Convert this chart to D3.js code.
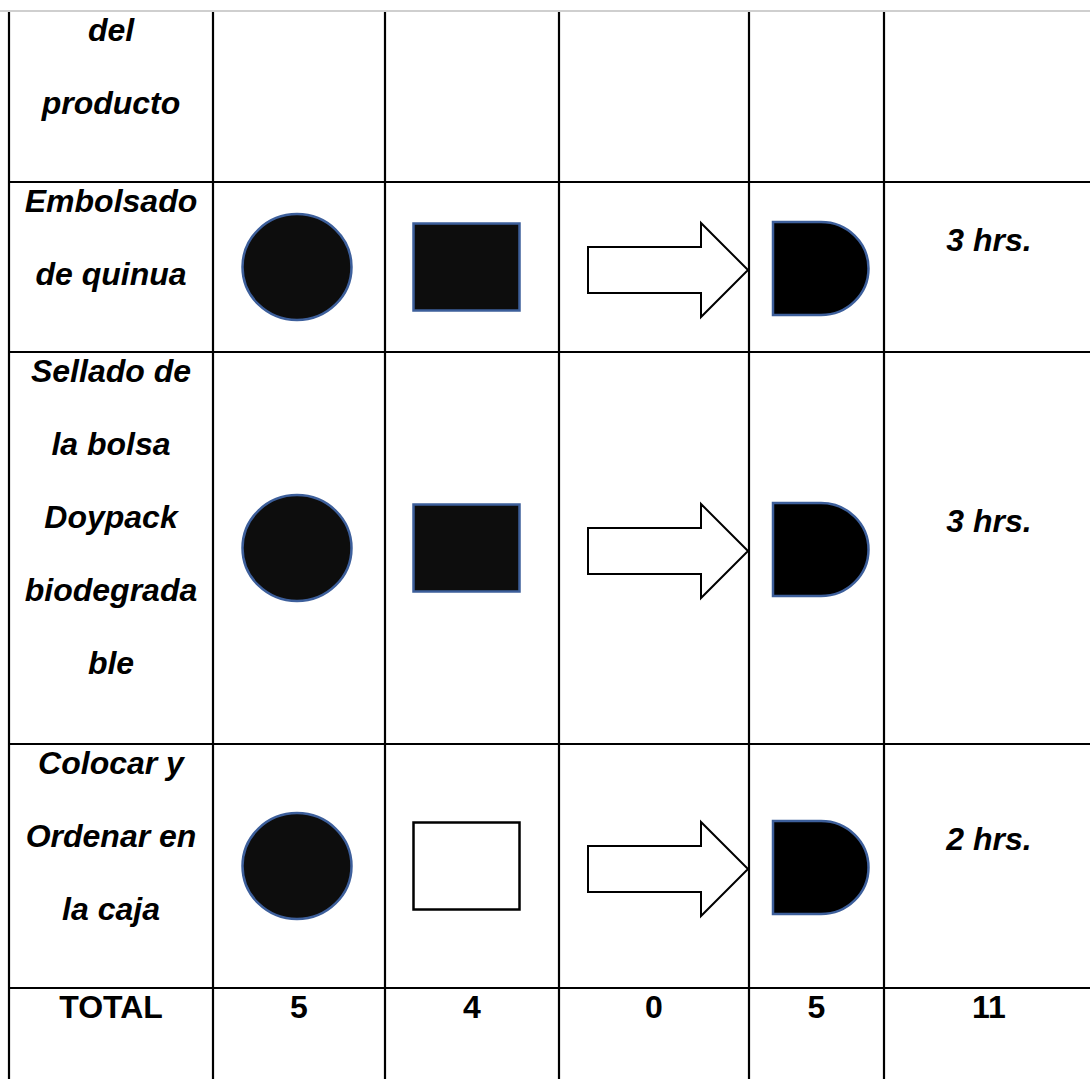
<!DOCTYPE html>
<html lang="es">
<head>
    <meta charset="UTF-8">
    <title>Cursograma - tabla</title>
    <script src="https://d3js.org/d3.v7.min.js"></script>
    <style>
        body { margin: 0; background: #fff; }
        .cell_text {
            font-family: "Liberation Sans", Arial, sans-serif;
            font-size: 32px;
            font-weight: bold;
            fill: #000;
        }
    </style>
</head>
<body>
<svg width="1090" height="1079"></svg>

<script>
    // row labels (one list of lines per row)
    const rowLabels = [
        ["del", "producto"],
        ["Embolsado", "de quinua"],
        ["Sellado de", "la bolsa", "Doypack", "biodegrada", "ble"],
        ["Colocar y", "Ordenar en", "la caja"]
    ];
    // symbols per row: "filled", "empty" or null
    const operacion   = [null, "filled", "filled", "filled"];
    const inspeccion  = [null, "filled", "filled", "empty"];
    const transporte  = [null, "empty", "empty", "empty"];
    const demora      = [null, "filled", "filled", "filled"];
    const tiempos     = ["", "3 hrs.", "3 hrs.", "2 hrs."];
    const totalLabel  = "TOTAL";
    const totales     = ["5", "4", "0", "5", "11"];

    // table layout
    const colEdges = [9, 213, 385, 559, 749, 884, 1094];
    const rowEdges = [11, 182, 352, 744, 988, 1090];
    const lineGap = 73, firstBase = 30;

    const svg = d3.select("svg");
    const colX = d3.scaleOrdinal().domain(d3.range(6)).range(d3.range(6).map(i => (colEdges[i] + colEdges[i + 1]) / 2));
    const rowY = d3.scaleOrdinal().domain(d3.range(5)).range(d3.range(5).map(i => rowEdges[i]));
    const rowMid = i => (rowEdges[i] + rowEdges[i + 1]) / 2;

    // grid
    const grid = svg.append("g");
    grid.selectAll("line.v").data(colEdges.slice(0, 6)).enter().append("line")
        .attr("x1", d => d).attr("x2", d => d)
        .attr("y1", rowEdges[0]).attr("y2", 1079)
        .attr("stroke", "#000").attr("stroke-width", 2.2);
    grid.selectAll("line.h").data(rowEdges.slice(1, 5)).enter().append("line")
        .attr("x1", colEdges[0] - 1).attr("x2", 1090)
        .attr("y1", d => d).attr("y2", d => d)
        .attr("stroke", "#000").attr("stroke-width", 2.2);
    svg.append("line")
        .attr("x1", 0).attr("x2", 1090).attr("y1", rowEdges[0]).attr("y2", rowEdges[0])
        .attr("stroke", "#cfcfcf").attr("stroke-width", 2);

    // row labels
    rowLabels.forEach(function (lines, r) {
        svg.append("g").selectAll("text").data(lines).enter().append("text")
            .attr("class", "cell_text")
            .attr("font-style", "italic")
            .attr("text-anchor", "middle")
            .attr("x", colX(0))
            .attr("y", (d, i) => rowY(r) + firstBase + i * lineGap)
            .text(d => d);
    });

    const blue = "#3d5f9b", dark = "#0d0d0d";
    const shapes = svg.append("g");

    // operacion: circle
    operacion.forEach(function (v, r) {
        if (!v) return;
        shapes.append("ellipse")
            .attr("cx", colX(1) - 2).attr("cy", rowMid(r))
            .attr("rx", 54.5).attr("ry", 53)
            .attr("fill", v === "filled" ? dark : "#fff")
            .attr("stroke", blue).attr("stroke-width", 2.5);
    });

    // inspeccion: rectangle
    inspeccion.forEach(function (v, r) {
        if (!v) return;
        shapes.append("rect")
            .attr("x", colX(2) - 5.5 - 53).attr("y", rowMid(r) - 43.5)
            .attr("width", 106).attr("height", 87)
            .attr("fill", v === "filled" ? dark : "#fff")
            .attr("stroke", v === "filled" ? blue : "#000").attr("stroke-width", 2.5);
    });

    // transporte: arrow
    const arrowLine = d3.line();
    transporte.forEach(function (v, r) {
        if (!v) return;
        const cx = colX(3) + 14, cy = rowMid(r) + 3;
        const x0 = cx - 80, xh = cx + 33, x1 = cx + 80;
        const pts = [[x0, cy - 23], [xh, cy - 23], [xh, cy - 47], [x1, cy], [xh, cy + 47],
            [xh, cy + 23], [x0, cy + 23]];
        shapes.append("path")
            .attr("d", arrowLine(pts) + "Z")
            .attr("fill", v === "filled" ? dark : "#fff")
            .attr("stroke", "#000").attr("stroke-width", 2)
            .attr("stroke-linejoin", "miter");
    });

    // demora: D shape
    demora.forEach(function (v, r) {
        if (!v) return;
        const cy = rowMid(r) + 1.5;
        const x0 = colX(4) + 4 - 47.5, h = 93, flat = 48, rx = 47.5;
        const p = d3.path();
        p.moveTo(x0, cy - h / 2);
        p.lineTo(x0 + flat, cy - h / 2);
        const d = p.toString() +
            `A${rx},${h / 2} 0 0 1 ${x0 + flat},${cy + h / 2}` +
            `L${x0},${cy + h / 2}Z`;
        shapes.append("path")
            .attr("d", d)
            .attr("fill", v === "filled" ? "#000" : "#fff")
            .attr("stroke", blue).attr("stroke-width", 2.5);
    });

    // tiempos
    svg.append("g").selectAll("text").data(tiempos).enter().append("text")
        .attr("class", "cell_text")
        .attr("font-style", "italic")
        .attr("text-anchor", "middle")
        .attr("x", colX(5))
        .attr("y", (d, i) => rowMid(i) - 16)
        .text(d => d);

    // totals row
    svg.append("text")
        .attr("class", "cell_text")
        .attr("text-anchor", "middle")
        .attr("x", colX(0))
        .attr("y", rowY(4) + firstBase)
        .text(totalLabel);
    svg.append("g").selectAll("text").data(totales).enter().append("text")
        .attr("class", "cell_text")
        .attr("text-anchor", "middle")
        .attr("x", (d, i) => colX(i + 1))
        .attr("y", rowY(4) + firstBase)
        .text(d => d);
</script>
</body>
</html>
